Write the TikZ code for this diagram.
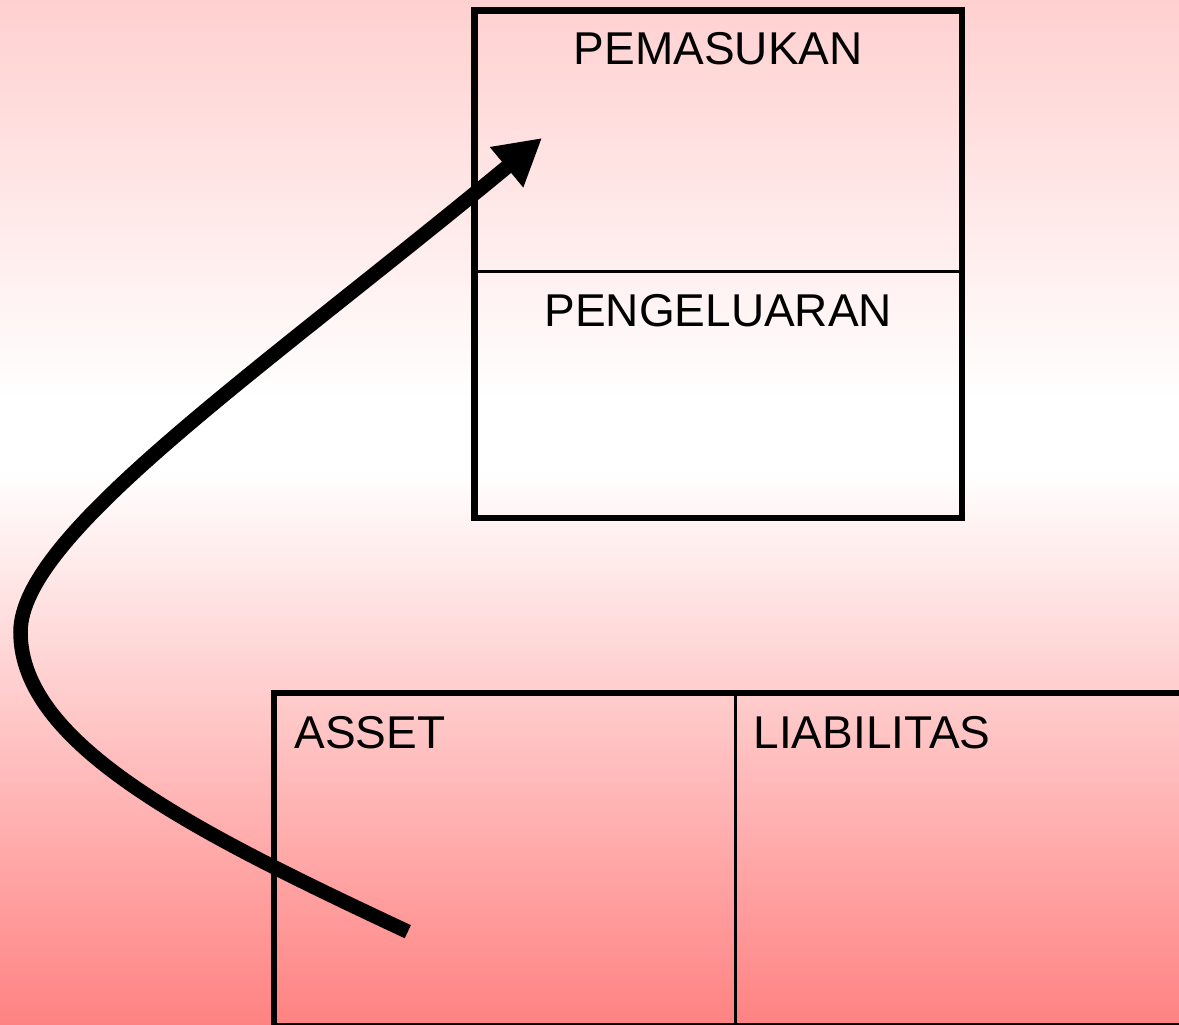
\documentclass[tikz,border=0pt]{standalone}
\usepackage{fontspec}
\setmainfont{Liberation Sans}
\usetikzlibrary{arrows.meta}
\definecolor{bgtop}{HTML}{FFD0D0}
\definecolor{bgbot}{HTML}{FF8282}
\tikzset{
  frame/.style={draw=black, line width=6.7pt},
  divider/.style={draw=black, line width=2.8pt},
  label/.style={inner sep=0pt, outer sep=0pt, font=\fontsize{46pt}{55pt}\selectfont, text=black},
  flow/.style={draw=black, line width=14.5pt, line cap=butt, -{Triangle[length=46pt, width=49pt]}}
}
\begin{document}
\begin{tikzpicture}[x=1pt, y=-1pt]
\useasboundingbox (0,0) rectangle (1179,1025);
\clip (0,0) rectangle (1179,1025);
% background gradient
\shade[top color=bgtop, bottom color=white] (0,0) rectangle (1179,400.5);
\fill[white] (0,400) rectangle (1179,470.5);
\shade[top color=white, bottom color=bgbot] (0,470) rectangle (1179,1025);

% top box
\coordinate (topNW) at (474.5,10.7);
\coordinate (topSE) at (962,518);
\coordinate (divL) at (474.5,271.3);
\coordinate (divR) at (962,271.3);
\draw[divider] (divL) -- (divR);
\draw[frame] (topNW) rectangle (topSE);
\node[label, anchor=base] (pemasukan) at (718.3,65) {PEMASUKAN};
\node[label, anchor=base] (pengeluaran) at (718.3,326) {PENGELUARAN};

% bottom box
\coordinate (botNW) at (274,693);
\coordinate (botSE) at (1200,1026);
\coordinate (midT) at (735.7,693);
\coordinate (midB) at (735.7,1026);
\draw[divider] (midT) -- (midB);
\draw[frame] (botNW) rectangle (botSE);
\node[label, anchor=base west] (asset) at (294.5,748) {ASSET};
\node[label, anchor=base west] (liabilitas) at (753.6,748) {LIABILITAS};

% arrow
\coordinate (arrowstart) at (407.8,931.7);
\coordinate (arrowturn) at (20.5,632);
\coordinate (arrowend) at (542,138);
\draw[flow] (arrowstart) .. controls (195,832) and (20.5,745) .. (arrowturn)
  .. controls (20.5,535) and (255,375) .. (arrowend);
\end{tikzpicture}
\end{document}
